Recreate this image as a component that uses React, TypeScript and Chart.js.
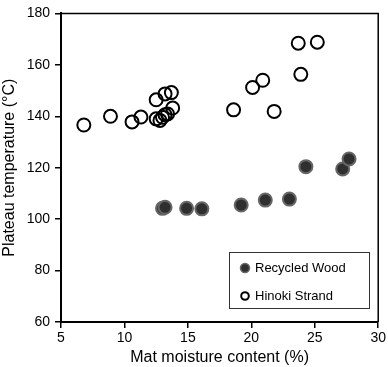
import React, { useEffect, useRef } from "react";
import { Chart, registerables } from "chart.js";

Chart.register(...registerables);

const recycledX = [13.0, 13.2, 14.9, 16.1, 19.2, 21.1, 23.0, 24.3, 27.2, 27.7];
const recycledY = [104.2, 104.6, 104.2, 104.0, 105.5, 107.4, 107.8, 120.4, 119.5, 123.4];

const hinokiX = [6.8, 8.9, 10.6, 11.3, 12.5, 12.5, 12.8, 13.0, 13.2, 13.4, 13.2, 13.7, 13.8, 18.6, 20.1, 20.9, 21.8, 23.7, 23.9, 25.2];
const hinokiY = [136.6, 140.0, 137.8, 139.7, 146.4, 139.0, 138.4, 139.6, 140.6, 140.9, 148.7, 149.2, 143.2, 142.5, 151.2, 154.0, 141.9, 168.4, 156.3, 168.8];

const seriesLabels = ["Recycled Wood", "Hinoki Strand"];
const xTitle = "Mat moisture content (%)";
const yTitle = "Plateau temperature (\u00B0C)";

const FONT = "'Liberation Sans', Arial, Helvetica, sans-serif";

const frameAndLegend = {
  id: "frameAndLegend",
  afterDatasetsDraw(chart: any) {
    const { ctx, chartArea } = chart;
    const { left, right, top, bottom } = chartArea;
    ctx.save();
    ctx.strokeStyle = "#000";
    ctx.lineWidth = 1.5;
    ctx.beginPath();
    ctx.moveTo(left, top);
    ctx.lineTo(right, top);
    ctx.lineTo(right, bottom);
    ctx.stroke();

    // legend box
    const bx = 229.5, by = 252.5, bw = 140, bh = 56;
    ctx.fillStyle = "#fff";
    ctx.fillRect(bx, by, bw, bh);
    ctx.strokeStyle = "#333";
    ctx.lineWidth = 1;
    ctx.strokeRect(bx, by, bw, bh);
    ctx.font = `13px ${FONT}`;
    ctx.textBaseline = "middle";
    ctx.textAlign = "left";
    // entry 1
    ctx.beginPath();
    ctx.arc(245, 268, 4.5, 0, Math.PI * 2);
    ctx.fillStyle = "#2f2f2f";
    ctx.fill();
    ctx.strokeStyle = "#666";
    ctx.lineWidth = 1.5;
    ctx.stroke();
    ctx.fillStyle = "#000";
    ctx.fillText(chart.data.datasets[0].label, 255, 268);
    // entry 2
    ctx.beginPath();
    ctx.arc(245, 296, 3.8, 0, Math.PI * 2);
    ctx.strokeStyle = "#000";
    ctx.lineWidth = 2;
    ctx.stroke();
    ctx.fillStyle = "#000";
    ctx.fillText(chart.data.datasets[1].label, 255, 296);
    ctx.restore();
  },
};

export default function App() {
  const ref = useRef<HTMLCanvasElement>(null);
  useEffect(() => {
    if (!ref.current) return;
    const chart = new Chart(ref.current, {
      type: "scatter",
      data: {
        datasets: [
          {
            label: seriesLabels[0],
            data: recycledX.map((x, i) => ({ x, y: recycledY[i] })),
            backgroundColor: "#2f2f2f",
            borderColor: "#666666",
            borderWidth: 2,
            pointRadius: 6.5,
          },
          {
            label: seriesLabels[1],
            data: hinokiX.map((x, i) => ({ x, y: hinokiY[i] })),
            backgroundColor: "rgba(255,255,255,0)",
            borderColor: "#000000",
            borderWidth: 2,
            pointRadius: 6.5,
          },
        ],
      },
      options: {
        animation: false,
        responsive: false,
        maintainAspectRatio: false,
        layout: { padding: { top: 9, right: 9, left: 0, bottom: 0 } },
        plugins: {
          legend: { display: false },
          tooltip: { enabled: false },
        },
        scales: {
          x: {
            type: "linear",
            min: 5,
            max: 30,
            ticks: { stepSize: 5, color: "#000", font: { family: FONT, size: 14 }, padding: 2 },
            grid: { display: true, drawOnChartArea: false, drawTicks: true, tickLength: 6, color: "#000", lineWidth: 1.5 },
            border: { display: true, color: "#000", width: 2 },
            title: { display: true, text: xTitle, color: "#000", font: { family: FONT, size: 16 }, padding: { top: 1, bottom: 0 } },
            afterFit(scale: any) {
              scale.height = 45;
            },
          },
          y: {
            type: "linear",
            min: 60,
            max: 180,
            ticks: { stepSize: 20, color: "#000", font: { family: FONT, size: 14 }, padding: 5 },
            grid: { display: true, drawOnChartArea: false, drawTicks: true, tickLength: 6, color: "#000", lineWidth: 1.5 },
            border: { display: true, color: "#000", width: 2 },
            title: { display: true, text: yTitle, color: "#000", font: { family: FONT, size: 16 }, padding: { top: 0, bottom: 4 } },
            afterFit(scale: any) {
              scale.width = 61;
            },
          },
        },
      },
      plugins: [frameAndLegend],
    });
    return () => chart.destroy();
  }, []);
  return (
    <div style={{ position: "absolute", left: 0, top: 0, width: 388, height: 367, background: "#fff" }}>
      <canvas ref={ref} width={388} height={367} style={{ width: 388, height: 367 }} />
    </div>
  );
}
